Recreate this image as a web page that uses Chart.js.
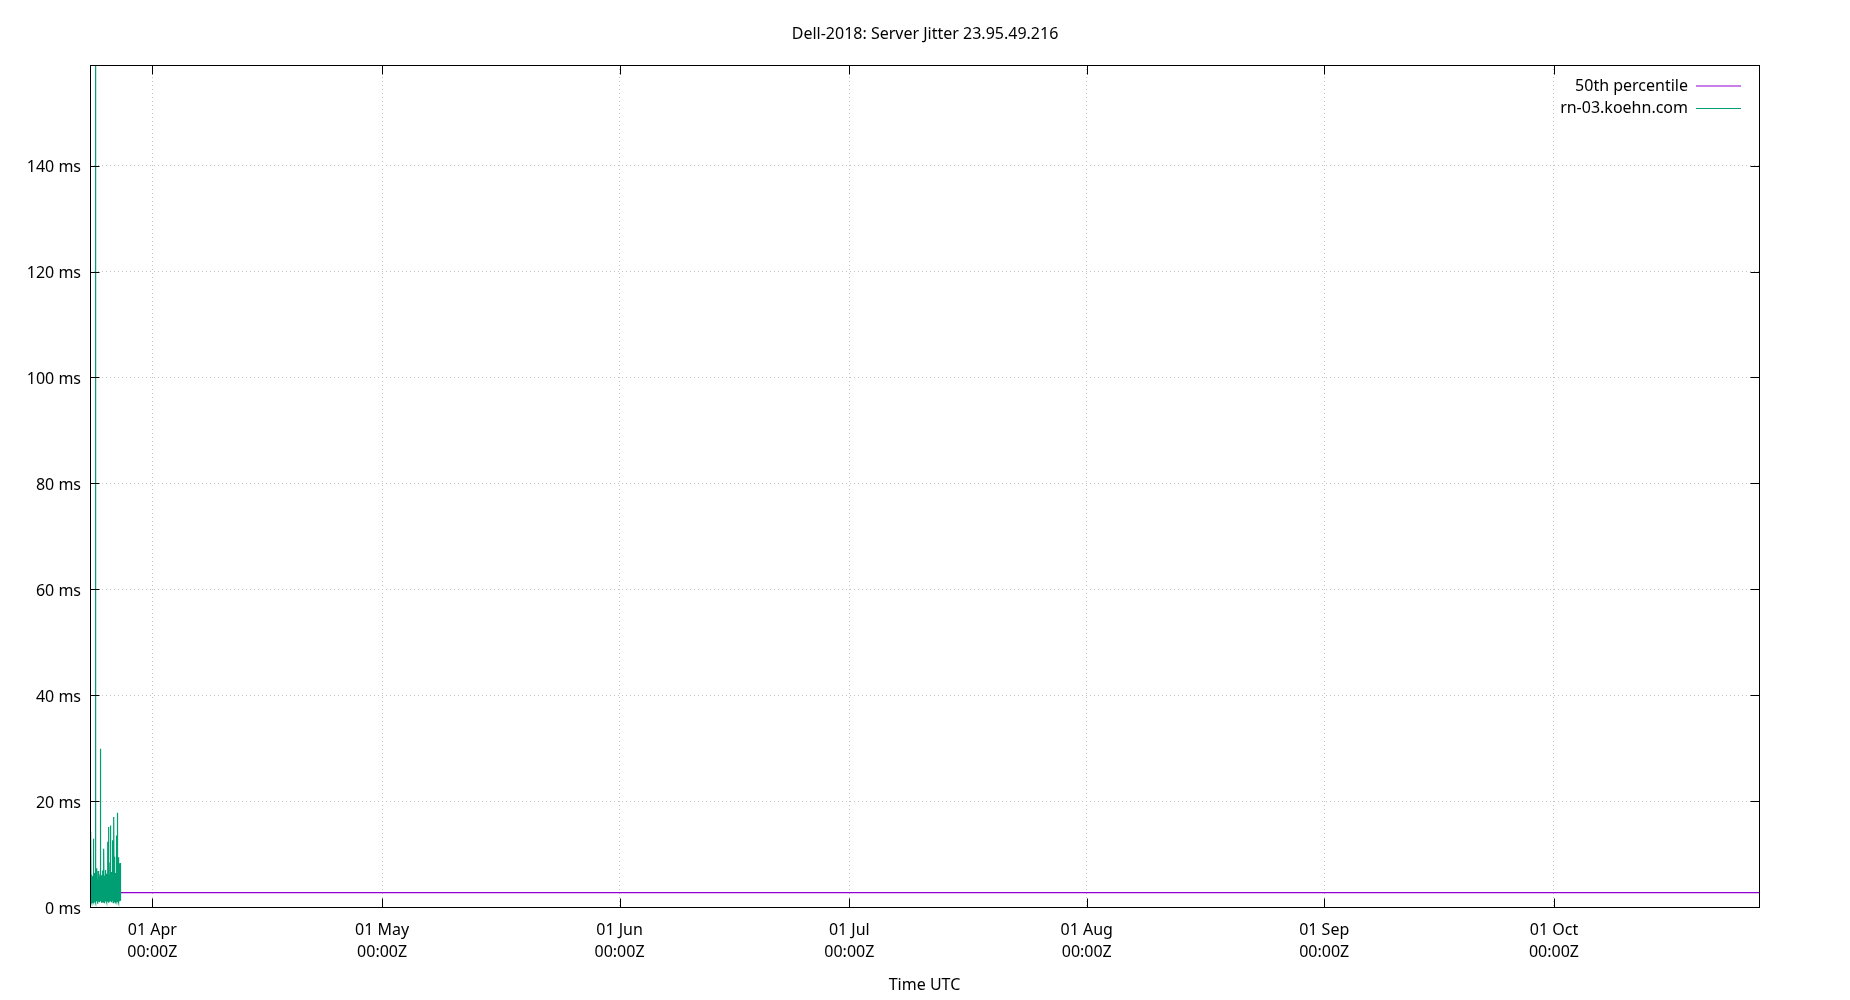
<!DOCTYPE html>
<html>
<head>
<meta charset="utf-8">
<script src="https://cdn.jsdelivr.net/npm/chart.js@4/dist/chart.umd.min.js"></script>
<style>
html, body { margin: 0; padding: 0; background: #fff; }
canvas { display: block; }
</style>
</head>
<body>
<canvas id="c" width="1850" height="1000"></canvas>
<script>
// ---------------- data ----------------
const chartTitle = 'Dell-2018: Server Jitter 23.95.49.216';
const xAxisTitle = 'Time UTC';
const seriesNames = ['50th percentile', 'rn-03.koehn.com'];

const xRangeStart = '2024-03-23T20:40:00Z';
const xRangeEnd = '2024-10-27T18:30:00Z';

const percentileMs = 2.7;

const jitterStart = '2024-03-23T20:40:00Z';
const jitterHours = [0,0.75,1.5,2.25,3,3.75,4.5,5.25,6,6.75,7.5,8.25,9,9.75,10.5,11.25,12,12.75,13.5,14.25,15,15.75,16.5,17.25,18,18.75,19.5,20.25,21,21.75,22.5,23.25,24,24.75,25.5,26.25,27,27.75,28.5,29.25,30,30.75,31.5,32.25,33,33.75,34.5,35.25,36,36.75,37.5,38.25,39,39.75,40.5,41.25,42,42.75,43.5,44.25,45,45.75,46.5,47.25,48,48.75,49.5,50.25,51,51.75,52.5,53.25,54,54.75,55.5,56.25,57,57.75,58.5,59.25,60,60.75,61.5,62.25,63,63.75,64.5,65.25,66,66.75,67.5,68.25,69,69.75,70.5,71.25,72,72.75,73.5,74.25,75,75.75,76.5,77.25,78,78.75,79.5,80.25,81,81.75,82.5,83.25,84,84.75,85.5,86.25,87,87.75,88.5,89.25,90,90.75,91.5,92.25,93,93.75,94.5,95.25,96];
const jitterMs = [3.1,0.9,5.2,1.4,14.2,1.1,6.1,0.8,4.4,1.6,5.8,0.7,3.9,1.3,12.9,1.0,5.1,1.8,6.4,0.9,4.7,1.2,159,1.5,5.5,0.8,4.2,1.9,7.3,1.1,5.0,0.6,3.6,1.4,6.8,1.0,4.9,2.0,5.7,0.9,4.1,1.3,6.2,1.1,29.9,1.6,5.3,0.8,4.6,1.5,6.0,1.0,3.8,1.7,6.9,0.9,5.4,1.2,11.0,1.4,4.8,0.7,5.9,1.8,4.3,1.1,7.0,1.3,5.2,0.9,6.3,1.6,4.5,1.0,12.3,1.4,5.6,0.8,15.1,1.2,6.1,1.7,4.9,1.0,8.4,1.3,15.4,1.1,5.8,0.9,6.6,1.5,4.4,1.2,12.6,1.8,5.1,0.8,6.9,1.4,17.0,1.0,9.5,1.6,5.7,1.1,6.4,0.9,4.6,1.7,7.2,1.3,13.5,1.0,17.8,1.5,6.0,1.2,9.4,0.8,5.3,1.4,8.2,1.1,6.5,1.9,8.3,1.2,4.7];

const xTickDates = ['2024-04-01T00:00:00Z','2024-05-01T00:00:00Z','2024-06-01T00:00:00Z','2024-07-01T00:00:00Z','2024-08-01T00:00:00Z','2024-09-01T00:00:00Z','2024-10-01T00:00:00Z'];
const xTickLabels = [['01 Apr','00:00Z'],['01 May','00:00Z'],['01 Jun','00:00Z'],['01 Jul','00:00Z'],['01 Aug','00:00Z'],['01 Sep','00:00Z'],['01 Oct','00:00Z']];
const yTickValues = [0,20,40,60,80,100,120,140];
const yMin = 0;
const yMax = 159;

// ---------------- styles ----------------
const FONT = "'Noto Sans', 'Open Sans', sans-serif";
const colors = ['#9400d3', '#009e73'];
const gridColor = '#c4c4c4';

Chart.defaults.font.family = FONT;
Chart.defaults.color = '#000';

const t0 = Date.parse(xRangeStart);
const t1 = Date.parse(xRangeEnd);
const js = Date.parse(jitterStart);

const percentileData = [{x: t0, y: percentileMs}, {x: t1, y: percentileMs}];
const jitterData = jitterHours.map((h, i) => ({x: js + h * 3600000, y: jitterMs[i]}));

// center the title on the whole canvas, place legend at top-right inside the plot
const layoutTweaks = {
  id: 'layoutTweaks',
  afterLayout(chart) {
    const tb = chart.titleBlock;
    if (tb) { tb.left = 0; tb.right = chart.width; tb.width = chart.width; }
    const lg = chart.legend;
    const a = chart.chartArea;
    if (!lg) return;
    const pad = lg.options.labels.padding;
    const rightEdge = a.right - 18;
    lg.left = rightEdge + pad - lg.width;
    lg.right = lg.left + lg.width;
    lg.top = a.top + 13 - pad;
    lg.bottom = lg.top + lg.height;
  }
};

// gnuplot-like frame with inward tick marks on all sides
const framePlugin = {
  id: 'frame',
  afterDatasetsDraw(chart) {
    const {ctx, chartArea: a, scales: {x, y}} = chart;
    const L = Math.round(a.left) + 0.5, R = Math.round(a.right) + 0.5;
    const T = Math.round(a.top) + 0.5, B = Math.round(a.bottom) + 0.5;
    const tl = 9;
    ctx.save();
    ctx.strokeStyle = '#000';
    ctx.lineWidth = 1;
    ctx.setLineDash([]);
    ctx.beginPath();
    x.ticks.forEach(t => {
      const px = Math.round(x.getPixelForValue(t.value)) + 0.5;
      ctx.moveTo(px, B); ctx.lineTo(px, B - tl);
      ctx.moveTo(px, T); ctx.lineTo(px, T + tl);
    });
    y.ticks.forEach(t => {
      const py = Math.round(y.getPixelForValue(t.value)) + 0.5;
      ctx.moveTo(L, py); ctx.lineTo(L + tl, py);
      ctx.moveTo(R, py); ctx.lineTo(R - tl, py);
    });
    ctx.stroke();
    ctx.strokeRect(L, T, R - L, B - T);
    ctx.restore();
  }
};

// nudge the y tick labels down slightly so they sit centred on their ticks
function nudgeYLabels(scale) {
  if (scale._nudged) return;
  scale._nudged = true;
  const orig = scale.drawLabels;
  scale.drawLabels = function (area) {
    this.ctx.save();
    this.ctx.translate(0, 2);
    orig.call(this, area);
    this.ctx.restore();
  };
}

new Chart(document.getElementById('c'), {
  type: 'line',
  data: {
    datasets: [
      {
        label: seriesNames[0],
        data: percentileData,
        borderColor: colors[0],
        backgroundColor: colors[0],
        borderWidth: 1.2,
        pointRadius: 0,
        tension: 0,
        order: 1
      },
      {
        label: seriesNames[1],
        data: jitterData,
        borderColor: colors[1],
        backgroundColor: colors[1],
        borderWidth: 1.2,
        pointRadius: 0,
        tension: 0,
        order: 0
      }
    ]
  },
  options: {
    responsive: false,
    animation: false,
    devicePixelRatio: 1,
    events: [],
    layout: { padding: { left: 0, right: 91, top: 0, bottom: 0 } },
    plugins: {
      title: {
        display: true,
        text: chartTitle,
        color: '#000',
        font: { family: FONT, size: 16, weight: 'normal', lineHeight: 1.2 },
        padding: { top: 24.6, bottom: 21.2 }
      },
      legend: {
        display: true,
        position: 'chartArea',
        align: 'start',
        rtl: true,
        labels: {
          boxWidth: 45,
          boxHeight: 1,
          padding: 6.4,
          color: '#000',
          font: { family: FONT, size: 16 },
          generateLabels: () => seriesNames.map((name, i) => ({
            text: name,
            fillStyle: colors[i],
            strokeStyle: colors[i],
            fontColor: '#000',
            lineWidth: 0,
            hidden: false,
            datasetIndex: i
          }))
        }
      },
      tooltip: { enabled: false }
    },
    scales: {
      x: {
        type: 'linear',
        bounds: 'data',
        min: t0,
        max: t1,
        afterBuildTicks: s => { s.ticks = xTickDates.map(d => ({ value: Date.parse(d) })); },
        afterFit: s => { s.height = 93; },
        ticks: {
          autoSkip: false,
          maxRotation: 0,
          minRotation: 0,
          padding: 12,
          color: '#000',
          font: { family: FONT, size: 16, lineHeight: 1.4 },
          callback: v => {
            const i = xTickDates.findIndex(d => Date.parse(d) === v);
            return i >= 0 ? xTickLabels[i] : '';
          }
        },
        grid: { color: gridColor, lineWidth: 1, drawTicks: false },
        border: { display: false, dash: [1, 3] },
        title: {
          display: true,
          text: xAxisTitle,
          color: '#000',
          font: { family: FONT, size: 16, lineHeight: 1.2 },
          padding: { top: 0, bottom: 5.4 }
        }
      },
      y: {
        type: 'linear',
        bounds: 'data',
        min: yMin,
        max: yMax,
        afterBuildTicks: s => { s.ticks = yTickValues.map(v => ({ value: v })); },
        afterFit: s => { s.width = 90; nudgeYLabels(s); },
        ticks: {
          padding: 9,
          color: '#000',
          font: { family: FONT, size: 16 },
          callback: v => v + ' ms'
        },
        grid: { color: gridColor, lineWidth: 1, drawTicks: false },
        border: { display: false, dash: [1, 3] }
      }
    }
  },
  plugins: [layoutTweaks, framePlugin]
});
</script>
</body>
</html>
